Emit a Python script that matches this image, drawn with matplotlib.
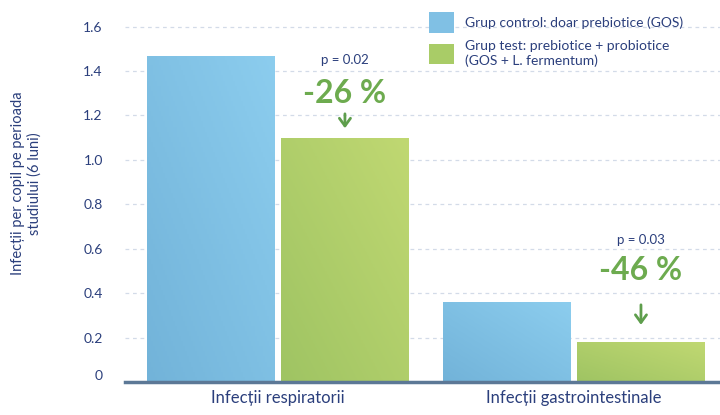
import numpy as np
import matplotlib.pyplot as plt
from matplotlib.colors import LinearSegmentedColormap
from matplotlib.patches import Patch

plt.rcParams["font.family"] = ["Lato", "DejaVu Sans"]

categories = ["Infecții respiratorii", "Infecții gastrointestinale"]
control = [1.47, 0.36]
test = [1.10, 0.18]
p_values = ["p = 0.02", "p = 0.03"]
reductions = ["-26 %", "-46 %"]
series_names = ["Grup control: doar prebiotice (GOS)",
                "Grup test: prebiotice + probiotice\n(GOS + L. fermentum)"]
yticks = [0, 0.2, 0.4, 0.6, 0.8, 1.0, 1.2, 1.4, 1.6]

navy = "#2b3f7c"
green_txt = "#6dab4f"
blue_cmap = LinearSegmentedColormap.from_list("b", ["#72b3d9", "#8ccdee"])
green_cmap = LinearSegmentedColormap.from_list("g", ["#9fc463", "#c0d872"])

fig = plt.figure(figsize=(7.2, 4.15), dpi=100)
ax = fig.add_axes([0.1736, 0.0795, 0.8264, 0.9205])

x = np.arange(len(categories))
w = 0.432
off = 0.226


def gradient_bars(xs, vals, cmap):
    bars = ax.bar(xs, vals, w, color="none", zorder=2)
    grad = np.linspace(0, 1, 64)
    img = (grad[None, :] + grad[::-1][:, None]) / 2
    for b in bars:
        x0, y0 = b.get_x(), b.get_y()
        im = ax.imshow(img, cmap=cmap, extent=[x0, x0 + b.get_width(), y0, y0 + b.get_height()],
                       aspect="auto", zorder=2, origin="upper")
        im.set_clip_path(b)
    return bars


gradient_bars(x - off, control, blue_cmap)
gradient_bars(x + off, test, green_cmap)

ax.set_xlim(-0.517, 1.493)
ax.set_ylim(0, 1.72)
ax.set_yticks(yticks)
ax.set_yticklabels(["0" if v == 0 else f"{v:.1f}" for v in yticks], color=navy, fontsize=10)
for lbl in ax.get_yticklabels():
    if lbl.get_text() == "0":
        lbl.set_va("bottom")
ax.set_xticks(x)
ax.set_xticklabels(categories, color=navy, fontsize=12)
ax.tick_params(axis="both", length=0)
ax.tick_params(axis="y", pad=16)
ax.tick_params(axis="x", pad=6)
ax.grid(axis="y", color="#d3dbe8", linestyle=(0, (3, 3)), linewidth=0.9, zorder=0)
for s in ["top", "right", "left"]:
    ax.spines[s].set_visible(False)
ax.spines["bottom"].set_color("#5c7896")
ax.spines["bottom"].set_linewidth(2.5)
ax.set_ylabel("Infecții per copil pe perioada\nstudiului (6 luni)", color=navy, fontsize=10.5)
ax.yaxis.set_label_coords(-0.14, 0.52)

# annotations
p_y = [1.45, 0.64]
r_y = [1.30, 0.50]
arr = [(1.22, 1.13), (0.36, 0.245)]
for i in range(len(categories)):
    xc = x[i] + off
    ax.text(xc, p_y[i], p_values[i], ha="center", va="center", color=navy, fontsize=9.5)
    ax.text(xc, r_y[i], reductions[i], ha="center", va="center", color=green_txt,
            fontsize=23, fontweight="bold")
    ax.annotate("", xy=(xc, arr[i][1]), xytext=(xc, arr[i][0]),
                arrowprops=dict(arrowstyle="->,head_length=0.55,head_width=0.4",
                                color="#5e9e4c", lw=2))

handles = [Patch(facecolor="#80c0e4"), Patch(facecolor="#a9cc67")]
leg = ax.legend(handles, series_names, loc="upper left", bbox_to_anchor=(0.49, 1.0),
                frameon=False, fontsize=10, handlelength=1.8, handleheight=1.9,
                handletextpad=0.8, labelspacing=0.5)
for t in leg.get_texts():
    t.set_color(navy)

fig.savefig("out.png", dpi=100)
